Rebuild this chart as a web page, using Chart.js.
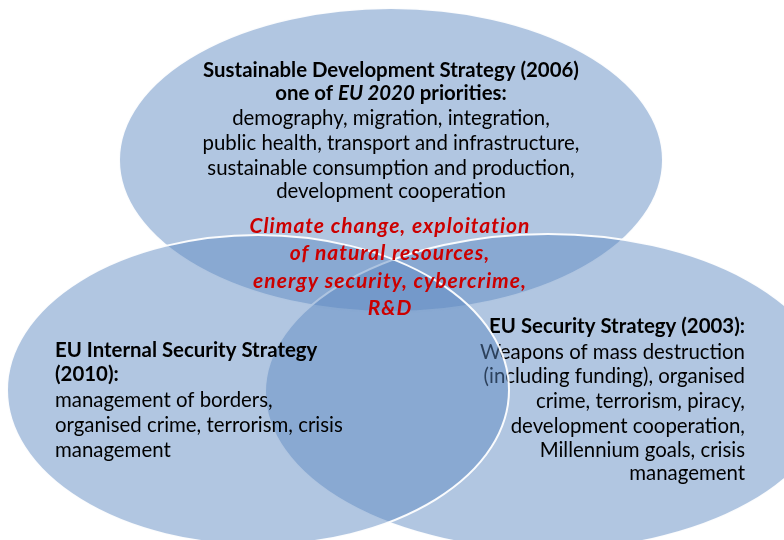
<!DOCTYPE html>
<html>
<head>
<meta charset="utf-8">
<title>EU strategies</title>
<script src="https://cdn.jsdelivr.net/npm/chart.js@4/dist/chart.umd.min.js"></script>
<style>
  html, body { margin: 0; padding: 0; background: #fff; }
  #venn { display: block; }
</style>
</head>
<body>
<canvas id="venn" width="784" height="540"></canvas>
<script>
// Ellipses, in chart units (one unit = one page pixel)
const strategies = ['Sustainable Development Strategy', 'EU Security Strategy', 'EU Internal Security Strategy'];
const centerX = [391, 548, 258];
const centerY = [160, 392, 390];
const radiusX = [272, 283, 251];
const radiusY = [152, 158, 155];

// Texts ("_" toggles italic)
const topLines = [
    'Sustainable Development Strategy (2006)',
    'one of _EU 2020_ priorities:',
    'demography, migration, integration,',
    'public health, transport and infrastructure,',
    'sustainable consumption and production,',
    'development cooperation'
];
const rightLines = [
    'EU Security Strategy (2003):',
    'Weapons of mass destruction',
    '(including funding), organised',
    'crime, terrorism, piracy,',
    'development cooperation,',
    'Millennium goals, crisis',
    'management'
];
const leftLines = [
    'EU Internal Security Strategy',
    '(2010):',
    'management of borders,',
    'organised crime, terrorism, crisis',
    'management'
];
const sharedLines = [
    'Climate change, exploitation',
    'of natural resources,',
    'energy security, cybercrime,',
    'R&D'
];

const vennChart = {

    fill: 'rgba(91, 136, 193, 0.48)',
    edge: 'rgba(255, 255, 255, 0.95)',
    family: 'Lato, "Open Sans", sans-serif',

    // text blocks belong to the ellipse with the same index
    blocks: [
        { lines: topLines, align: 'center', x: 391, y: [70, 93, 118, 143, 168, 191], bold: 2, size: 20.4, color: '#000' },
        { lines: rightLines, align: 'right', x: 745, y: [326, 352, 376, 401, 426, 450, 473], bold: 1, size: 20.4, color: '#000' },
        { lines: leftLines, align: 'left', x: 55, y: [350, 374, 400, 425, 450], bold: 2, size: 20.4, color: '#000' }
    ],
    shared: { lines: sharedLines, align: 'center', x: 390, y: [226, 253, 281, 308], bold: 4, size: 21, color: '#cc0000', italic: true, spacing: 1 },

    // top first, then right, left on top of both
    drawOrder: [0, 1, 2],

    init: function() {
        const ctx = document.getElementById('venn').getContext('2d');
        new Chart(ctx, {
            type: 'scatter',
            data: {
                labels: strategies,
                datasets: [{
                    data: centerX.map((cx, i) => ({ x: cx, y: centerY[i] })),
                    pointRadius: 0
                }]
            },
            options: {
                responsive: false,
                animation: false,
                events: [],
                layout: { padding: 0 },
                scales: {
                    x: { type: 'linear', min: 0, max: 784, display: false },
                    y: { type: 'linear', min: 0, max: 540, reverse: true, display: false }
                },
                plugins: {
                    legend: { display: false },
                    tooltip: { enabled: false }
                }
            },
            plugins: [{
                id: 'vennShapes',
                afterDatasetsDraw: (chart) => this.drawShapes(chart)
            }]
        });
    },

    drawShapes: function(chart) {
        const ctx = chart.ctx;
        const xs = chart.scales.x;
        const ys = chart.scales.y;
        const points = chart.getDatasetMeta(0).data;

        ctx.save();
        this.drawOrder.forEach(i => {
            const px = points[i].x;
            const py = points[i].y;
            const rx = Math.abs(xs.getPixelForValue(centerX[i] + radiusX[i]) - px);
            const ry = Math.abs(ys.getPixelForValue(centerY[i] + radiusY[i]) - py);

            ctx.beginPath();
            ctx.ellipse(px, py, rx, ry, 0, 0, Math.PI * 2);
            ctx.fillStyle = this.fill;
            ctx.fill();
            ctx.lineWidth = 2;
            ctx.strokeStyle = this.edge;
            ctx.stroke();

            this.drawBlock(ctx, this.blocks[i]);
        });
        this.drawBlock(ctx, this.shared);
        ctx.restore();
    },

    drawBlock: function(ctx, block) {
        ctx.fillStyle = block.color;
        ctx.textBaseline = 'middle';
        ctx.textAlign = 'left';
        ctx.letterSpacing = (block.spacing || 0) + 'px';
        block.lines.forEach((line, k) => {
            const weight = k < block.bold ? 'bold ' : '';
            const parts = line.split('_');
            const fonts = parts.map((p, j) => {
                const it = (j % 2 === 1) !== !!block.italic ? 'italic ' : '';
                return it + weight + block.size + 'px ' + this.family;
            });
            const widths = parts.map((p, j) => {
                ctx.font = fonts[j];
                return ctx.measureText(p).width;
            });
            const total = widths.reduce((a, b) => a + b, 0);
            let x = block.x;
            if (block.align === 'center') x -= total / 2;
            if (block.align === 'right') x -= total;
            parts.forEach((p, j) => {
                ctx.font = fonts[j];
                ctx.fillText(p, x, block.y[k]);
                x += widths[j];
            });
        });
        ctx.letterSpacing = '0px';
    }
};

document.addEventListener('DOMContentLoaded', function() {
    vennChart.init();
});
</script>
</body>
</html>
